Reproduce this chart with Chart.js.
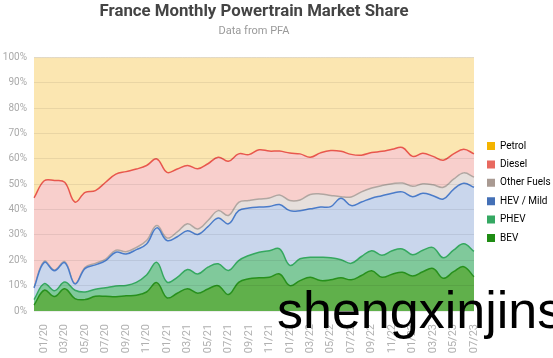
<!DOCTYPE html>
<html><head><meta charset="utf-8">
<script src="https://cdn.jsdelivr.net/npm/chart.js@4.4.0/dist/chart.umd.min.js"></script>
<style>html,body{margin:0;padding:0;background:#fff;}#wrap{position:relative;width:553px;height:358px;}</style>
</head><body><div id="wrap"><canvas id="c" width="553" height="358"></canvas></div>
<script>
const months = ['12/19','01/20','02/20','03/20','04/20','05/20','06/20','07/20','08/20','09/20','10/20','11/20','12/20',
  '01/21','02/21','03/21','04/21','05/21','06/21','07/21','08/21','09/21','10/21','11/21','12/21',
  '01/22','02/22','03/22','04/22','05/22','06/22','07/22','08/22','09/22','10/22','11/22','12/22',
  '01/23','02/23','03/23','04/23','05/23','06/23','07/23'];
const bev    = [2.3,8.2,5.7,8.8,4.9,4.5,5.8,5.8,5.6,6.0,6.2,7.5,11.2,5.2,7.0,8.8,7.0,8.7,10.0,6.5,11.3,12.7,13.1,13.3,14.6,10.0,12.0,13.3,12.0,12.3,13.1,12.3,14.0,15.9,13.3,14.5,15.3,13.8,15.5,16.8,12.9,15.5,17.5,13.5];
const phev   = [2.2,2.6,2.3,2.6,3.3,3.0,2.8,3.4,4.3,4.1,5.1,6.7,8.0,6.2,6.3,7.6,7.6,8.6,8.6,9.5,8.6,9.2,10.1,10.5,9.9,8.0,8.6,7.9,9.2,8.7,7.1,6.5,7.5,7.9,8.7,9.3,9.2,8.4,8.5,8.2,8.1,8.5,9.0,10.0];
const hev    = [4.6,8.4,7.9,7.7,2.5,9.3,9.6,10.7,13.3,12.4,12.9,12.2,13.6,16.4,16.0,15.3,15.6,16.0,18.1,18.4,19.7,18.7,17.8,17.4,17.5,21.6,19.0,19.1,19.8,20.2,24.3,22.8,21.5,20.7,23.5,22.7,22.5,22.9,22.5,20.5,23.2,24.0,23.9,25.3];
const other  = [0.2,0.4,0.3,0.4,0.2,0.4,0.6,0.6,0.8,0.9,0.9,1.4,0.9,1.0,1.9,2.7,2.2,2.4,2.9,3.3,3.3,3.0,3.2,3.4,3.8,4.0,4.2,5.7,5.2,4.4,0.6,3.4,4.0,4.0,4.0,3.7,3.5,4.1,3.7,4.3,4.6,4.0,4.1,4.0];
const diesel = [35.3,31.8,35.3,31.3,32.1,29.6,28.7,30.3,30.0,31.6,30.9,29.6,26.3,25.9,24.8,23.0,23.7,22.4,21.1,21.4,19.1,18.1,19.4,18.5,17.3,18.7,18.2,14.7,16.2,17.7,17.9,16.8,14.5,14.0,13.5,13.6,14.0,11.8,12.0,11.2,10.7,10.0,9.3,9.2];
const petrol = [55.4,48.6,48.5,49.2,57.0,53.2,52.5,49.2,46.0,45.0,44.0,42.6,40.0,45.3,44.0,42.6,43.9,41.9,39.3,40.9,38.0,38.3,36.4,36.9,36.9,37.7,38.0,39.3,37.6,36.7,37.0,38.2,38.5,37.5,37.0,36.2,35.5,39.0,37.8,39.0,40.5,38.0,36.2,38.0];
const seriesNames = ['BEV','PHEV','HEV / Mild','Other Fuels','Diesel','Petrol'];
const yTicks = [0,10,20,30,40,50,60,70,80,90,100];

const lineColors   = ['#27901c','#35a85f','#4a7bc9','#b1a6a1','#e8574d','rgba(225,205,160,0.8)'];
const fillColors   = ['#60b04b','#80c99b','#c9d6ec','#e6dfdc','#f8cfcc','#fbe6b1'];
const legendColors = ['#1f8c14','#35a862','#4470b6','#a99a92','#e8695f','#f4b400'];
const seriesData = [bev, phev, hev, other, diesel, petrol];

const datasets = seriesData.map((d, i) => ({
  label: seriesNames[i],
  data: d,
  borderColor: lineColors[i],
  backgroundColor: fillColors[i],
  borderWidth: i === 5 ? 1 : 1.5,
  fill: i === 0 ? 'origin' : '-1',
  pointRadius: 0,
  tension: 0.4
}));

const tweak = {
  id: 'tweak',
  afterLayout(chart) {
    const L = chart.legend; if (!L || !L.columnSizes) return;
    const p = L.options.labels.padding;
    const w = L.right - L.left, h = L.bottom - L.top;
    L.left = 487 - p; L.right = L.left + w;
    const colH = L.columnSizes[0].height;
    const top = (2 * 141 - p + colH - h) / 2;
    L.top = top; L.bottom = top + h;
  },
  afterDraw(chart) {
    const ctx = chart.ctx;
    ctx.save();
    ctx.font = '52px "Liberation Sans", Arial, sans-serif';
    ctx.fillStyle = '#000';
    ctx.textBaseline = 'alphabetic';
    ctx.textAlign = 'left';
    ctx.fillText('shengxinjins', 277, 328);
    ctx.restore();
  }
};

new Chart(document.getElementById('c'), {
  type: 'line',
  data: { labels: months, datasets },
  plugins: [tweak],
  options: {
    responsive: false,
    devicePixelRatio: 1,
    animation: false,
    layout: { padding: 0 },
    plugins: {
      title: { display: true, text: 'France Monthly Powertrain Market Share', color: '#444',
        font: { family: 'Roboto', size: 16.8, weight: 'bold' }, padding: { top: 2, bottom: 2 }, fullSize: false },
      subtitle: { display: true, text: 'Data from PFA', color: '#9a9a9a',
        font: { family: 'Roboto', size: 11 }, padding: { top: 0, bottom: 20.2 }, fullSize: false },
      legend: {
        position: 'right', maxWidth: 79,
        labels: {
          boxWidth: 8, boxHeight: 8, padding: 8.4, color: '#666',
          font: { family: 'Roboto', size: 10 },
          generateLabels(chart) {
            return chart.data.datasets.map((ds, i) => ({
              text: ds.label, fillStyle: legendColors[i], strokeStyle: legendColors[i],
              lineWidth: 0, hidden: false, datasetIndex: i
            })).reverse();
          }
        }
      },
      tooltip: { enabled: false }
    },
    scales: {
      x: {
        grid: { display: false }, border: { display: false },
        ticks: {
          autoSkip: false, maxRotation: 90, minRotation: 90, padding: 5, color: '#b0b0b0',
          font: { family: 'Roboto', size: 11 },
          callback: (v, idx) => idx % 2 === 1 ? months[idx] : ''
        },
        afterFit(s) { s.height = 47; }
      },
      y: {
        stacked: true, min: 0, max: 100,
        afterBuildTicks(s) { s.ticks = yTicks.map(v => ({ value: v })); },
        grid: { color: 'rgba(0,0,0,0.07)', drawTicks: false, z: 1 },
        border: { display: false },
        ticks: { padding: 7, color: '#aaa', font: { family: 'Roboto', size: 10 }, callback: v => v + '%' },
        afterFit(s) { s.width = 34; }
      }
    }
  }
});
</script></body></html>
